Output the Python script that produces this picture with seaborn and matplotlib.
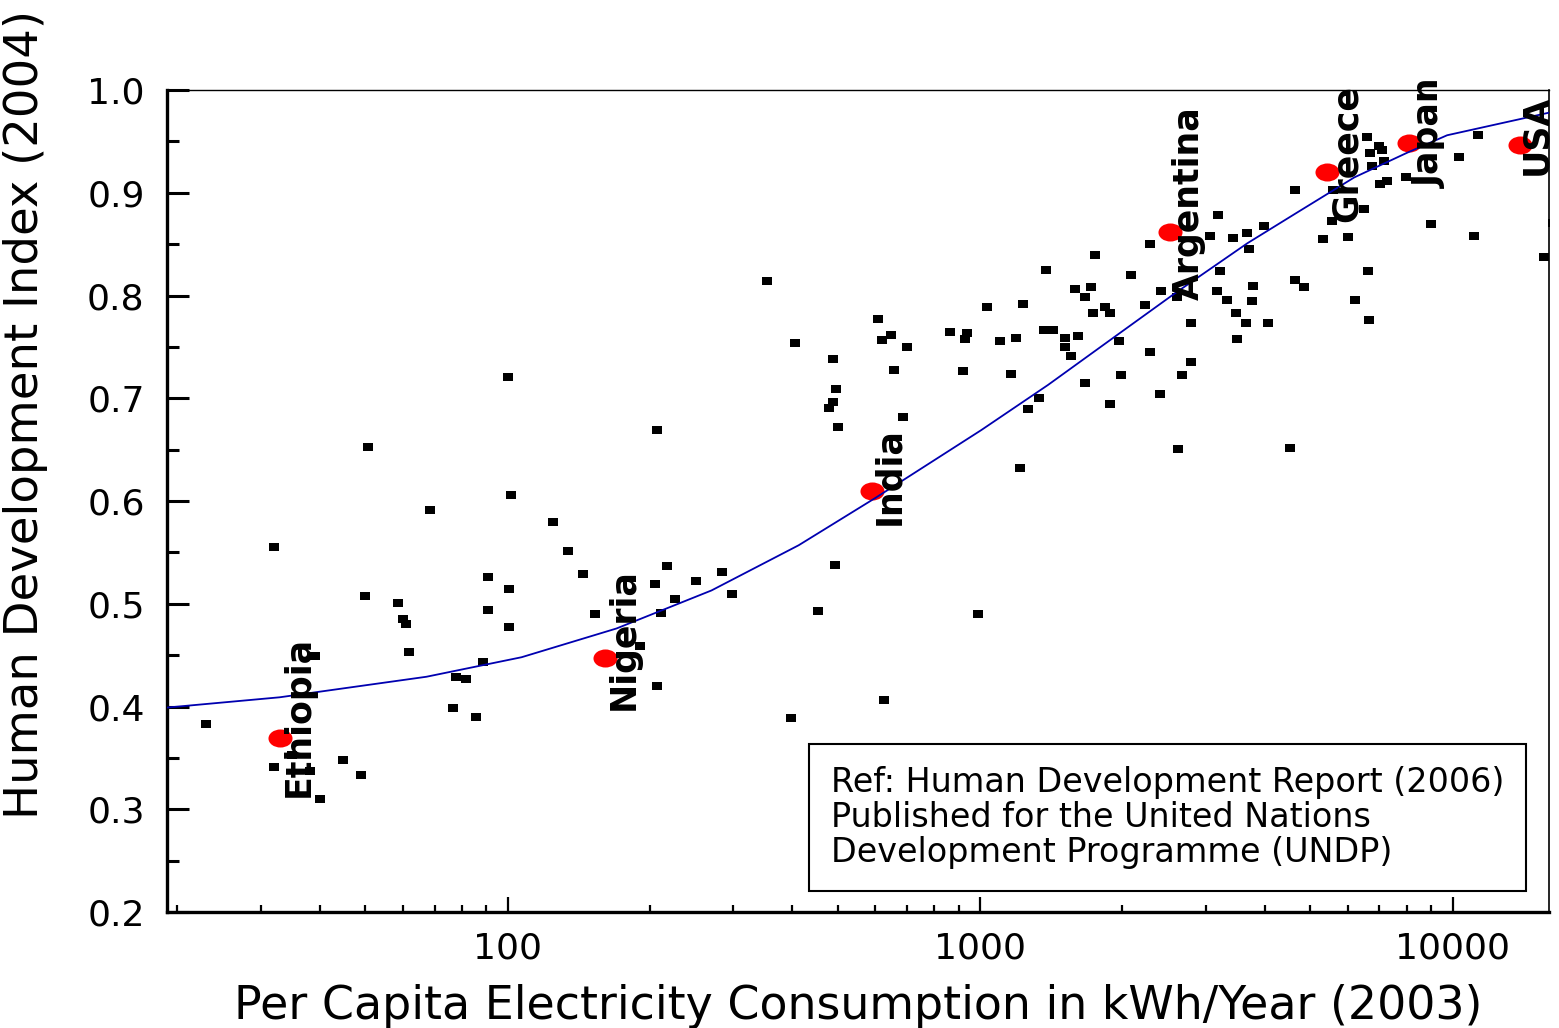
import matplotlib
matplotlib.use("Agg")
import matplotlib.pyplot as plt
import seaborn as sns
import pandas as pd
from matplotlib.path import Path
from matplotlib.transforms import Affine2D
from matplotlib.ticker import MultipleLocator, LogLocator, NullFormatter

# Countries (black squares): per capita electricity use (kWh/yr, 2003) and HDI (2004)
kwh = [23.0, 32.0, 32.0, 34.9, 38.1, 39.0, 40.0, 44.9, 48.8, 50.0,
       50.7, 58.7, 59.9, 61.0, 61.9, 68.6, 76.7, 77.8, 81.7, 85.8,
       88.8, 90.9, 90.9, 100, 100.7, 100.7, 101.7, 125, 134, 144,
       153, 191, 205, 207, 207, 211, 217, 226, 250, 284,
       299, 353, 397, 405, 453, 487, 492, 496, 489, 478,
       499, 609, 627, 621, 649, 658, 688, 701, 864, 921,
       930, 939, 990, 1035, 1102, 1163, 1191, 1215, 1232, 1263,
       1332, 1365, 1379, 1426, 1511, 1511, 1556, 1587, 1611, 1667,
       1667, 1716, 1733, 1750, 1837, 1882, 1882, 1966, 1985, 2084,
       2231, 2286, 2286, 2400, 2412, 2607, 2620, 2671, 2791, 2791,
       3060, 3167, 3182, 3213, 3324, 3422, 3473, 3490, 3645, 3663,
       3699, 3753, 3772, 3998, 4076, 4538, 4650, 4650, 4858, 5327,
       5568, 5595, 6018, 6226, 6504, 6599, 6631, 6665, 6697, 6761,
       6995, 7098, 7167, 7029, 7273, 7976, 9007, 10320, 11100, 11320,
       15600, 16300]
hdi = [0.383, 0.555, 0.341, 0.353, 0.337, 0.449, 0.310, 0.348, 0.333, 0.508,
       0.653, 0.501, 0.485, 0.480, 0.453, 0.591, 0.399, 0.429, 0.427, 0.390,
       0.443, 0.526, 0.494, 0.721, 0.514, 0.477, 0.606, 0.580, 0.551, 0.529,
       0.490, 0.459, 0.519, 0.669, 0.420, 0.491, 0.537, 0.505, 0.522, 0.531,
       0.510, 0.814, 0.389, 0.754, 0.493, 0.738, 0.538, 0.709, 0.696, 0.691,
       0.672, 0.777, 0.406, 0.757, 0.762, 0.728, 0.682, 0.750, 0.765, 0.727,
       0.758, 0.764, 0.490, 0.789, 0.756, 0.724, 0.759, 0.632, 0.792, 0.690,
       0.700, 0.766, 0.825, 0.766, 0.759, 0.750, 0.741, 0.806, 0.761, 0.799,
       0.715, 0.808, 0.783, 0.839, 0.789, 0.783, 0.694, 0.756, 0.723, 0.820,
       0.791, 0.850, 0.745, 0.704, 0.804, 0.799, 0.651, 0.723, 0.773, 0.735,
       0.858, 0.804, 0.878, 0.824, 0.796, 0.856, 0.783, 0.758, 0.773, 0.861,
       0.845, 0.795, 0.809, 0.868, 0.773, 0.652, 0.903, 0.815, 0.808, 0.855,
       0.873, 0.903, 0.857, 0.796, 0.884, 0.954, 0.824, 0.776, 0.939, 0.926,
       0.946, 0.942, 0.931, 0.909, 0.911, 0.915, 0.870, 0.935, 0.858, 0.956,
       0.838, 0.871]

# Highlighted countries
cty_names = ["Ethiopia", "Nigeria", "India", "Argentina", "Greece", "Japan", "USA"]
cty_kwh = [32.9, 161, 589, 2519, 5433, 8095, 13890]
cty_hdi = [0.369, 0.447, 0.610, 0.862, 0.920, 0.948, 0.947]

# Fitted trend curve
fit_kwh = [19.0, 32.9, 67.3, 107, 170, 270, 413, 600, 1005, 1392,
           1928, 2581, 3681, 4695, 6194, 8014, 9737, 16000]
fit_hdi = [0.399, 0.409, 0.429, 0.448, 0.476, 0.513, 0.557, 0.603, 0.669, 0.713,
           0.760, 0.802, 0.851, 0.881, 0.915, 0.939, 0.956, 0.978]

y_ticks = [0.2, 0.3, 0.4, 0.5, 0.6, 0.7, 0.8, 0.9, 1.0]
y_ticklabels = ["0.2", "0.3", "0.4", "0.5", "0.6", "0.7", "0.8", "0.9", "1.0"]
x_ticks = [100, 1000, 10000]
x_ticklabels = ["100", "1000", "10000"]

# label offsets (points) from each red marker
label_offsets = [(14, -42), (13, -37), (13, -25), (14, -49), (14, -36), (15, -32), (12, -22)]

sns.set_style("ticks")
plt.rcParams["font.family"] = ["DejaVu Sans"]
plt.rcParams.update({
    "text.color": "black",
    "axes.labelcolor": "black",
    "axes.edgecolor": "black",
    "xtick.color": "black",
    "ytick.color": "black",
})

fig = plt.figure(figsize=(15.59, 10.28), dpi=100)
ax = fig.add_axes([0.1071, 0.1128, 0.8865, 0.7996])

df = pd.DataFrame({"kwh": kwh, "hdi": hdi})
sq = Path([(-1, -0.8), (1, -0.8), (1, 0.8), (-1, 0.8), (-1, -0.8)],
          [Path.MOVETO, Path.LINETO, Path.LINETO, Path.LINETO, Path.CLOSEPOLY])
ell = Path.unit_circle().transformed(Affine2D().scale(1.0, 0.75))

sns.scatterplot(data=df, x="kwh", y="hdi", marker=sq, s=62, color="black",
                linewidth=0, ax=ax, zorder=3)
sns.lineplot(x=fit_kwh, y=fit_hdi, sort=False, estimator=None, color="#0000b0",
             lw=1.3, ax=ax, zorder=5)
sns.scatterplot(x=cty_kwh, y=cty_hdi, marker=ell, s=300, color="red",
                linewidth=0, ax=ax, zorder=4)

for name, cx, cy, off in zip(cty_names, cty_kwh, cty_hdi, label_offsets):
    ax.annotate(name, (cx, cy), xytext=off, textcoords="offset points",
                rotation=90, ha="center", va="bottom", fontsize=25,
                fontweight="bold", zorder=6)

ax.set_xscale("log")
ax.set_xlim(19, 16000)
ax.set_ylim(0.2, 1.0)

ax.set_xticks(x_ticks, labels=x_ticklabels)
ax.xaxis.set_minor_locator(LogLocator(base=10, subs=range(2, 10), numticks=20))
ax.xaxis.set_minor_formatter(NullFormatter())
ax.set_yticks(y_ticks, labels=y_ticklabels)
ax.yaxis.set_minor_locator(MultipleLocator(0.05))

ax.tick_params(axis="y", which="major", direction="in", length=16, width=2.2,
               pad=16, labelsize=26)
ax.tick_params(axis="y", which="minor", direction="in", length=8.5, width=2.2)
ax.tick_params(axis="x", which="major", direction="in", length=11, width=1.6,
               pad=14, labelsize=26)
ax.tick_params(axis="x", which="minor", direction="in", length=5, width=1.6)

ax.spines["left"].set_linewidth(2.4)
ax.spines["bottom"].set_linewidth(2.4)
ax.spines["top"].set_linewidth(1.0)
ax.spines["right"].set_linewidth(1.2)

ax.set_xlabel("Per Capita Electricity Consumption in kWh/Year (2003)", fontsize=33)
ax.xaxis.set_label_coords(0.5, -0.088)
ax.set_ylabel("Human Development Index (2004)", fontsize=33.5)
ax.yaxis.set_label_coords(-0.086, 0.605)

ax.text(0.4805, 0.115,
        "Ref: Human Development Report (2006)\n"
        "Published for the United Nations\n"
        "Development Programme (UNDP)",
        transform=ax.transAxes, fontsize=24, linespacing=1.08,
        ha="left", va="center", zorder=7,
        bbox=dict(boxstyle="square,pad=0.65", fc="white", ec="black", lw=1.5))

fig.savefig("out.png", dpi=100)
